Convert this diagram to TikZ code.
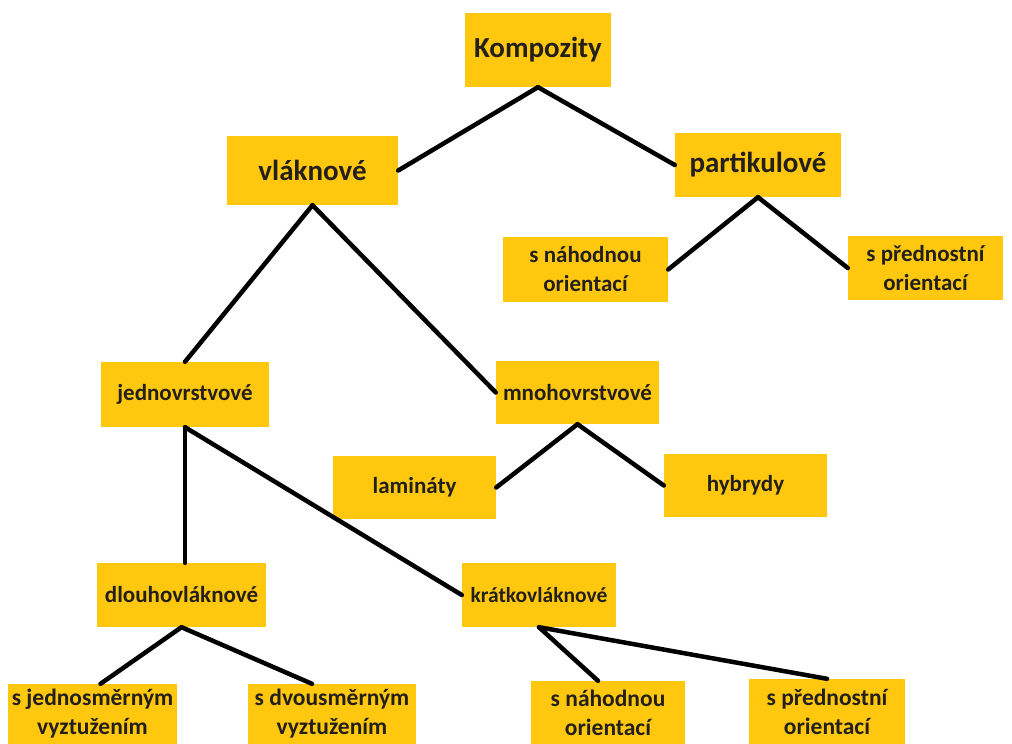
\documentclass[tikz,border=0pt]{standalone}
\usepackage{fontspec}
\setmainfont{Carlito}
\definecolor{gold}{HTML}{FFC80F}
\definecolor{ink}{HTML}{231F1A}
\begin{document}
\begin{tikzpicture}[x=1pt,y=-1pt,
  box/.style={fill=gold, inner sep=0pt, text=ink, align=center,
    font=\bfseries\fontsize{23}{29}\selectfont},
  big/.style={box, font=\bfseries\fontsize{29}{34}\selectfont},
  low/.style={box, font=\bfseries\fontsize{23.5}{29}\selectfont},
  link/.style={draw=black, line width=4.5pt, line cap=round}]
\useasboundingbox (0,0) rectangle (1012,744);
\clip (0,0) rectangle (1012,744);
\fill[white] (0,0) rectangle (1012,744);

\node[big, minimum width=146pt, minimum height=74pt] (k) at (538,50) {Kompozity};
\node[big, minimum width=171pt, minimum height=69pt] (v) at (312.5,170.5) {vláknové};
\node[big, minimum width=166pt, minimum height=64pt] (p) at (758,165) {partikulové};
\node[box, minimum width=165pt, minimum height=65pt] (sn1) at (585.5,269.5) {s náhodnou\\orientací};
\node[box, minimum width=155pt, minimum height=64pt] (sp1) at (925.5,268) {s přednostní\\orientací};
\node[box, minimum width=168pt, minimum height=65pt] (j) at (185,394.5) {jednovrstvové};
\node[box, minimum width=163pt, minimum height=63pt] (m) at (577.5,392.5) {mnohovrstvové};
\node[box, minimum width=163pt, minimum height=63pt] (l) at (414.5,487.5) {lamináty};
\node[box, minimum width=163pt, minimum height=63pt] (h) at (745.5,485.5) {hybrydy};
\node[box, minimum width=169pt, minimum height=64pt] (d) at (181.5,595) {dlouhovláknové};
\node[box, minimum width=154pt, minimum height=64pt, font=\bfseries\fontsize{21.5}{28}\selectfont] (kr) at (539,595) {krátkovláknové};
\node[low, minimum width=169pt, minimum height=60pt] (sj) at (92.5,714) {s jednosměrným\\vyztužením};
\node[low, minimum width=168pt, minimum height=60pt] (sd) at (332,714) {s dvousměrným\\vyztužením};
\node[low, minimum width=154pt, minimum height=63pt] (sn2) at (608,712.5) {s náhodnou\\orientací};
\node[low, minimum width=156pt, minimum height=65pt] (sp2) at (827,711.5) {s přednostní\\orientací};

\draw[link] (k.south) -- (v.east);
\draw[link] (k.south) -- (p.west);
\draw[link] (v.south) -- (j.north);
\draw[link] (v.south) -- (m.west);
\draw[link] (p.south) -- (sn1.east);
\draw[link] (p.south) -- (sp1.west);
\draw[link] (m.south) -- (l.east);
\draw[link] (m.south) -- (h.west);
\draw[link] (j.south) -- (j.south |- d.north);
\draw[link] (j.south) -- (kr.west);
\draw[link] (d.south) -- ([xshift=8pt]sj.north);
\draw[link] (d.south) -- ([xshift=-20pt]sd.north);
\draw[link] (kr.south) -- ([xshift=-10pt]sn2.north);
\draw[link] (kr.south) -- (sp2.north);
\end{tikzpicture}
\end{document}
